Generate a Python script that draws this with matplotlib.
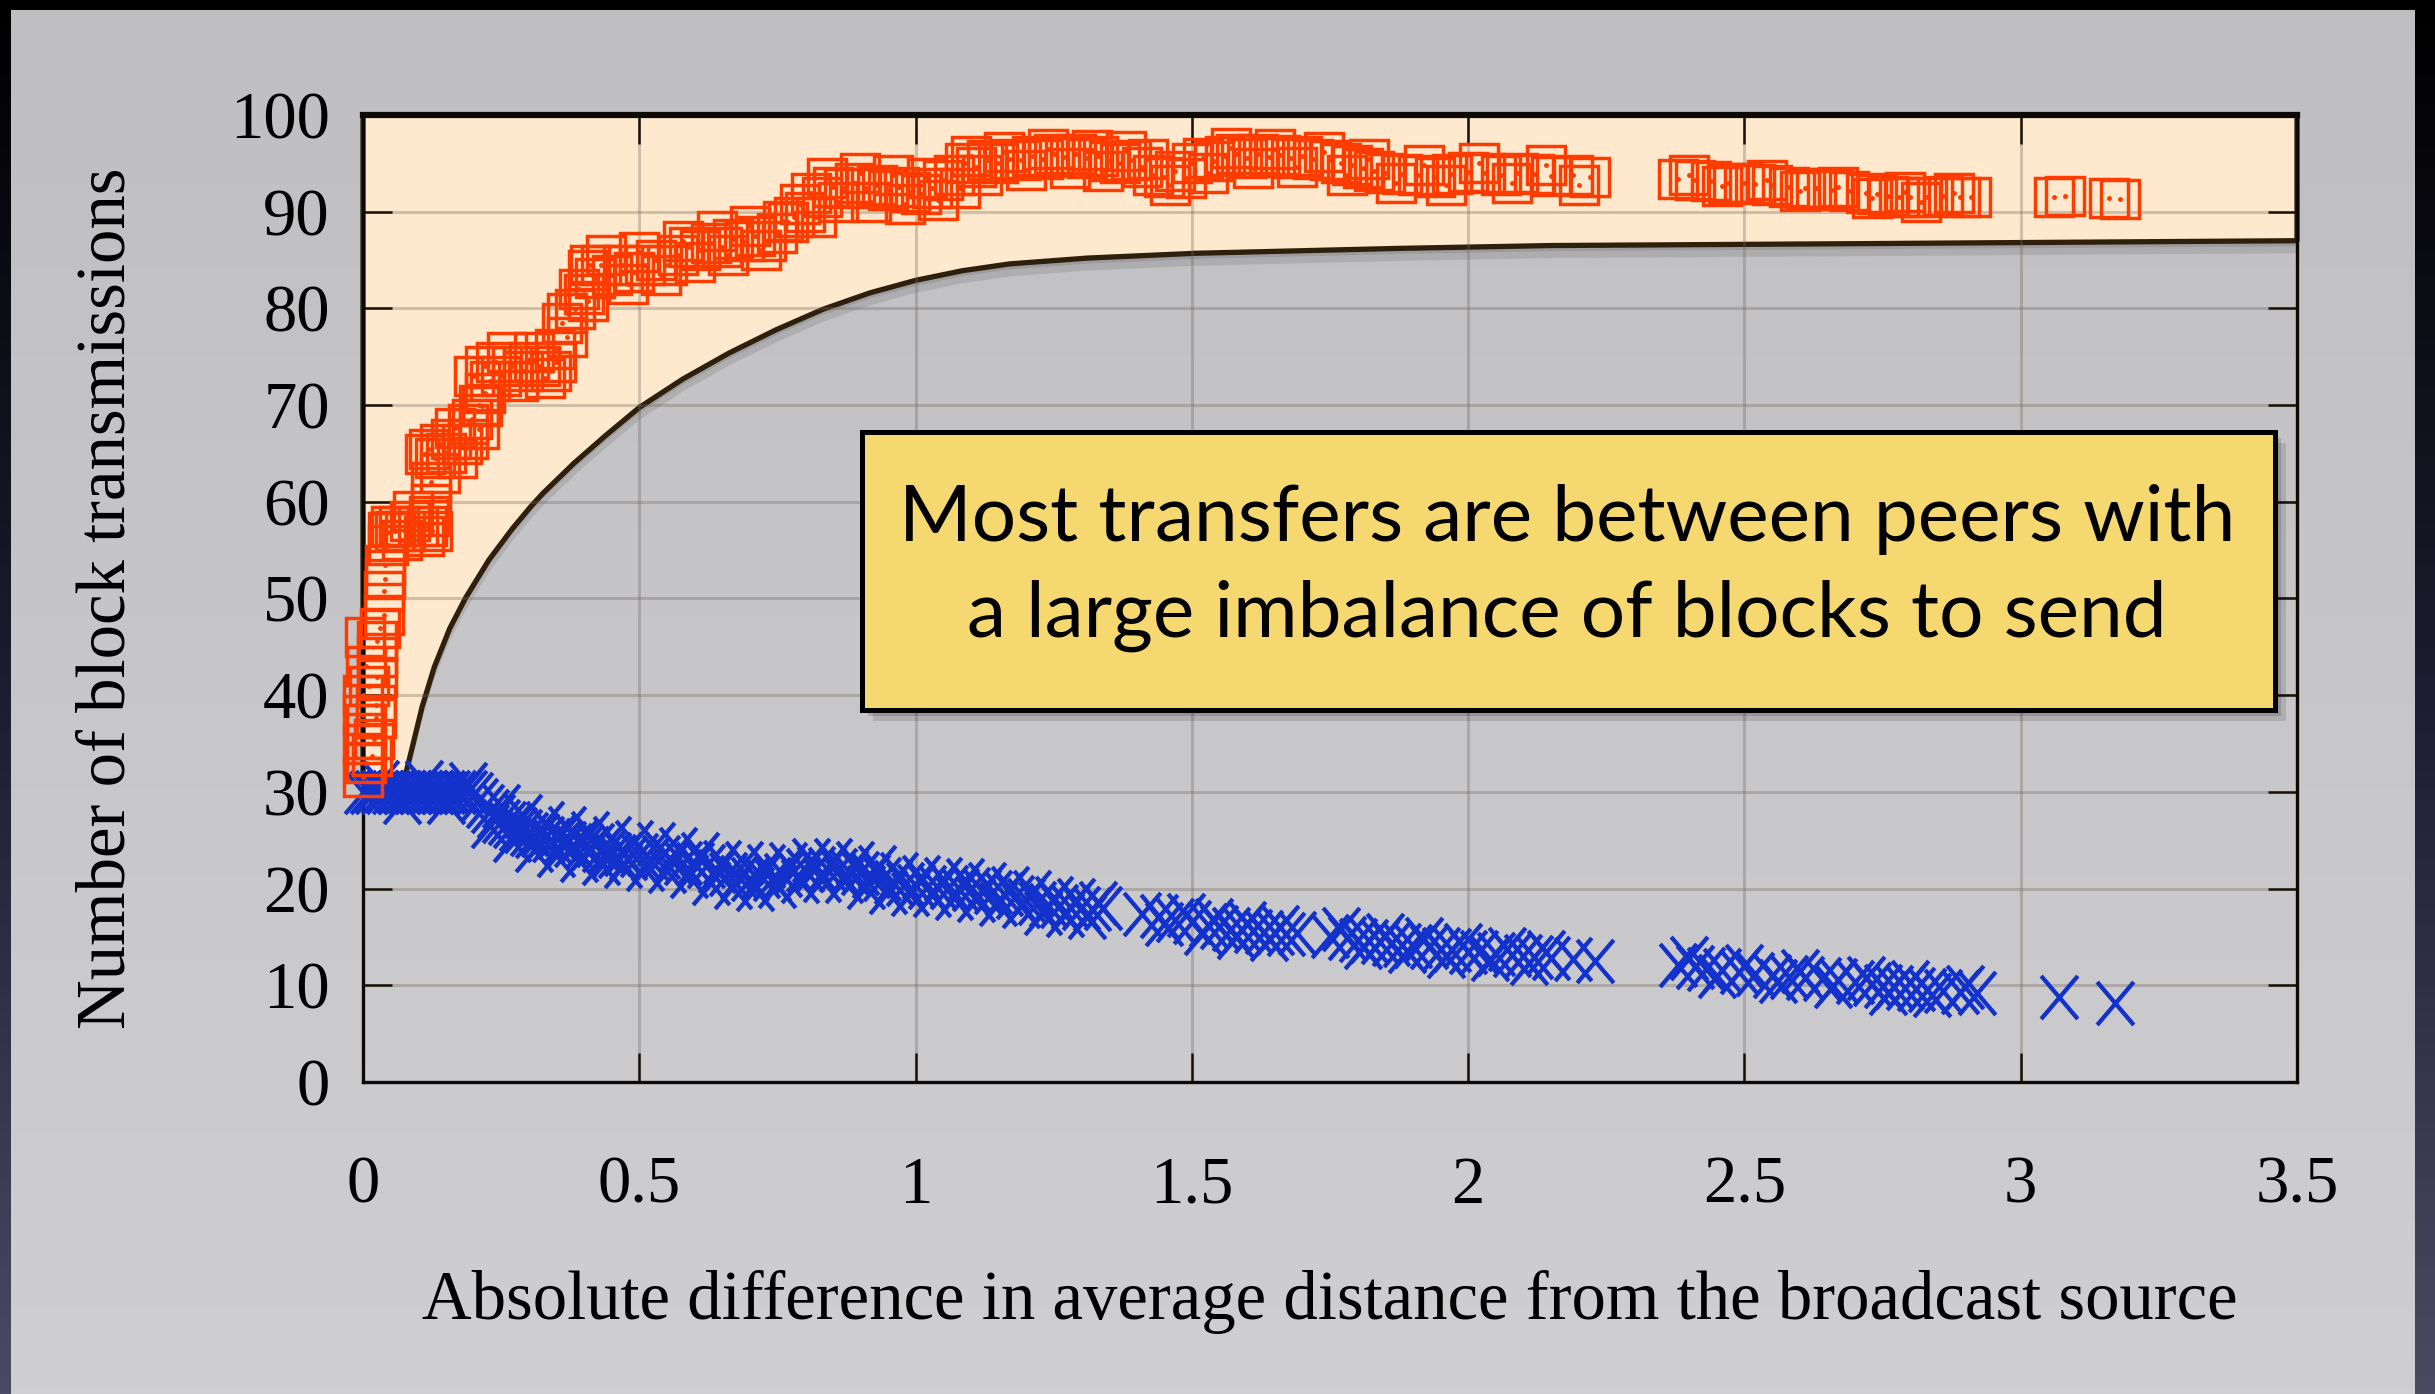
import numpy as np
import matplotlib
matplotlib.use('Agg')
import matplotlib.pyplot as plt
from matplotlib.path import Path
from matplotlib.patches import Polygon, Rectangle
import matplotlib.patheffects as pe

# Data
xticks = [0, 0.5, 1, 1.5, 2, 2.5, 3, 3.5]
xtick_labels = ['0', '0.5', '1', '1.5', '2', '2.5', '3', '3.5']
yticks = [0, 10, 20, 30, 40, 50, 60, 70, 80, 90, 100]

# bound curve
bound_x = [0.077, 0.09, 0.107, 0.129, 0.157, 0.186, 0.228, 0.27, 0.305, 0.326, 0.382, 0.408, 0.439,
           0.5, 0.579, 0.663, 0.748, 0.832, 0.917, 1.0, 1.085, 1.17, 1.31, 1.507, 1.87, 2.15, 2.72, 3.5]
bound_y = [31.8, 34.8, 38.8, 42.9, 46.9, 50.1, 54.0, 57.2, 59.6, 60.9, 64.0, 65.3, 66.85,
           69.75, 72.7, 75.4, 77.8, 79.9, 81.6, 82.9, 83.9, 84.6, 85.2, 85.7, 86.2, 86.5, 86.7, 87.0]

# red squares
red_x = [0.0, 0.005, 0.0, 0.005, 0.0, 0.005, 0.003, 0.016, 0.02, 0.023, 0.023, 0.025, 0.025, 0.025,
         0.03, 0.038, 0.038, 0.04, 0.04, 0.046, 0.046, 0.05, 0.058, 0.065, 0.076, 0.085, 0.1, 0.11,
         0.115, 0.124, 0.123, 0.123, 0.112, 0.12, 0.13, 0.14, 0.15, 0.16, 0.166, 0.18, 0.19, 0.197,
         0.21, 0.215, 0.22, 0.2, 0.22, 0.24, 0.25, 0.27, 0.29, 0.3, 0.32, 0.34, 0.347, 0.36, 0.37,
         0.384, 0.39, 0.408, 0.42, 0.408, 0.43, 0.45, 0.47, 0.49, 0.51, 0.53, 0.55, 0.57, 0.59, 0.61,
         0.63, 0.65, 0.67, 0.69, 0.71, 0.73, 0.75, 0.77, 0.79, 0.78, 0.8, 0.81, 0.83, 0.85, 0.87,
         0.89, 0.91, 0.93, 0.95, 0.97, 0.99, 1.01, 1.03, 1.05, 1.07, 1.09, 1.11, 1.13, 1.15, 1.17,
         1.19, 1.21, 1.23, 1.25, 1.27, 1.29, 1.31, 1.33, 1.35, 1.37, 1.39, 1.41, 1.43, 1.45, 1.47,
         1.5, 1.52, 1.54, 1.56, 1.58, 1.6, 1.62, 1.64, 1.66, 1.68, 1.7, 1.72, 1.75, 1.77, 1.79, 1.81,
         1.83, 1.85, 1.88, 1.91, 1.94, 1.97, 2.0, 2.03, 2.06, 2.09, 2.12, 2.15, 2.19, 2.22,
         2.38, 2.41, 2.44, 2.47, 2.5, 2.52, 2.55, 2.58, 2.61, 2.63, 2.66, 2.69, 2.72, 2.74, 2.76,
         2.78, 2.8, 2.83, 2.86, 2.89, 2.91, 3.06, 3.08, 3.16, 3.18,
         0.0, 0.01, 0.07, 0.09, 0.12, 0.14, 0.17, 0.19, 0.21, 0.23, 0.26, 0.28, 0.31, 0.33, 0.35,
         0.37, 0.4, 0.41, 0.44, 0.48, 0.5, 0.54, 0.58, 0.6, 0.64, 0.66, 0.7, 0.72, 0.76,
         0.82, 0.84, 0.86, 0.9, 0.92, 0.96, 0.98, 1.02, 1.04, 1.08, 1.1, 1.12, 1.16, 1.2, 1.24,
         1.28, 1.32, 1.34, 1.38, 1.42, 1.46, 1.49, 1.53, 1.57, 1.61, 1.65, 1.69, 1.74, 1.78, 1.82,
         1.87, 1.92, 1.96, 2.02, 2.08, 2.14, 2.2, 2.4, 2.46, 2.54, 2.6, 2.67, 2.73, 2.79, 2.82, 2.88]
red_y = [31.5, 33, 35, 37, 40, 43, 46, 33.7, 35.5, 37.6, 39, 41.9, 44, 45.6,
         47, 48.3, 50.8, 52, 53.5, 55.5, 56.9, 57.5, 57, 57.5, 57, 58, 57.5, 56.5,
         57.5, 57, 59.8, 62, 64.9, 65.5, 64.5, 66, 65, 66.5, 67.6, 66, 68, 68.6,
         67.5, 69.9, 71.2, 73, 74, 74.5, 73, 74, 73.5, 74.5, 74, 73.5, 75.8, 78.5, 77,
         79.9, 82, 80.8, 83.1, 84, 84.5, 83.5, 84.5, 83.8, 84.5, 85, 84.5, 85.5, 86.3, 86,
         86.8, 86.3, 87.2, 87, 87.5, 87, 87.8, 88.9, 90.8, 89.5, 90, 91.9, 91.5, 92.6, 92.5,
         93, 92.4, 92.8, 92.2, 92.6, 92, 91.8, 92.5, 93.3, 93.8, 95, 94.6, 95.3, 95, 95.5,
         95.3, 95.8, 95.5, 96, 95.7, 96, 95.6, 95.8, 95.2, 95, 95.3, 94.6, 93.8, 93.6, 94.2,
         95, 95.6, 95.2, 95.8, 96, 95.6, 96, 95.7, 95.9, 95.6, 95.8, 95.4, 95.3, 95, 94.8, 94.5,
         94.2, 94, 93.9, 93.8, 93.6, 93.9, 94.1, 94, 93.8, 94, 93.9, 93.7, 93.8, 93.6,
         93.4, 93.3, 93.2, 93, 93, 92.9, 92.8, 92.6, 92.5, 92.4, 92.2, 92.1, 91.9, 91.8, 91.6,
         91.5, 91.5, 91.5, 91.6, 91.5, 91.5, 91.5, 91.6, 91.4, 91.3,
         38, 41, 56, 59, 58.5, 63, 64.5, 66.5, 70, 72.5, 75.5, 72.5, 75.5, 72.8, 74.5,
         79.5, 81.5, 84.5, 85.5, 82.5, 85.8, 83.5, 87, 84.8, 88, 85.5, 88.5, 86, 89,
         89.5, 93.5, 91, 94, 91, 93.8, 90.8, 93.5, 91.2, 92.5, 95.8, 93.8, 96.2, 94.3, 96.5,
         94.5, 96.4, 94.2, 96.3, 95.5, 92.8, 93.5, 94, 96.6, 94.5, 96.5, 94.6, 96.2, 93.8, 95.5,
         93, 94.8, 92.8, 95, 93, 94.8, 92.8, 93.8, 92.7, 93.3, 92.1, 92.6, 91.4, 92, 91, 91.9]

# blue crosses
blue_x = [0.0, 0.01, 0.02, 0.03, 0.04, 0.05, 0.06, 0.07, 0.08, 0.09, 0.1, 0.11, 0.12, 0.13, 0.14,
          0.15, 0.16, 0.17, 0.18, 0.19, 0.2, 0.21, 0.22, 0.23, 0.24, 0.25, 0.26, 0.27, 0.28, 0.29,
          0.3, 0.31, 0.32, 0.33, 0.34, 0.35, 0.36, 0.37, 0.38, 0.39, 0.4, 0.41, 0.42, 0.43, 0.44,
          0.45, 0.46, 0.47, 0.48, 0.5, 0.52, 0.54, 0.56, 0.58, 0.6, 0.62, 0.64, 0.66, 0.68, 0.7,
          0.72, 0.74, 0.76, 0.78, 0.8, 0.82, 0.84, 0.86, 0.88, 0.9, 0.92, 0.94, 0.96, 0.98, 1.0,
          1.02, 1.04, 1.06, 1.08, 1.1, 1.12, 1.14, 1.16, 1.18, 1.2, 1.22, 1.24, 1.26, 1.28, 1.3,
          1.32, 1.34, 1.41, 1.44, 1.47, 1.5, 1.53, 1.55, 1.57, 1.59, 1.61, 1.63, 1.65, 1.67, 1.69,
          1.75, 1.78, 1.8, 1.82, 1.84, 1.86, 1.88, 1.9, 1.93, 1.95, 1.97, 2.0, 2.02, 2.05, 2.08,
          2.1, 2.12, 2.15, 2.19, 2.23, 2.38, 2.41, 2.43, 2.46, 2.49, 2.52, 2.55, 2.58, 2.61, 2.64,
          2.67, 2.7, 2.73, 2.75, 2.77, 2.79, 2.81, 2.83, 2.86, 2.89, 2.92, 3.07, 3.17,
          0.03, 0.07, 0.11, 0.15, 0.19, 0.23, 0.25, 0.27, 0.29, 0.31, 0.33, 0.35, 0.37, 0.39,
          0.41, 0.43, 0.45, 0.47, 0.49, 0.51, 0.53, 0.55, 0.57, 0.59, 0.61, 0.63, 0.65, 0.67,
          0.69, 0.71, 0.73, 0.75, 0.77, 0.79, 0.81, 0.83, 0.85, 0.87, 0.89, 0.91, 0.93, 0.95,
          0.97, 0.99, 1.01, 1.03, 1.05, 1.07, 1.09, 1.11, 1.13, 1.15, 1.17, 1.19, 1.21, 1.23,
          1.25, 1.27, 1.29, 1.31, 1.33, 1.45, 1.49, 1.52, 1.54, 1.58, 1.6, 1.64, 1.66, 1.77,
          1.81, 1.85, 1.89, 1.92, 1.96, 1.99, 2.04, 2.07, 2.11, 2.14, 2.4, 2.45, 2.5, 2.56, 2.6,
          2.66, 2.72, 2.76, 2.8, 2.84, 2.9]
blue_y = [30, 30, 30, 30, 30, 30, 30, 30, 30, 30, 30, 30, 30, 30, 30,
          30, 30, 30, 30, 30, 29.8, 29.2, 28.5, 28, 27.5, 27, 26.8, 26.5, 26.2, 26,
          25.6, 25.4, 25.5, 25.2, 25, 25.3, 24.8, 24.7, 24.5, 24.9, 24.3, 24.2, 24.5, 24, 23.8,
          23.6, 23.4, 23.6, 23.2, 23.5, 23.1, 23.3, 22.9, 22.6, 22.5, 22.3, 21.8, 21.5, 21.2, 21,
          21.3, 21, 21.4, 21.8, 21.9, 22.1, 22, 21.9, 21.7, 21.6, 21.3, 21, 20.7, 20.5, 20.3,
          20.2, 20.1, 20.2, 19.9, 20, 19.8, 19.7, 19.4, 19.1, 18.8, 18.5, 18.3, 18.2, 18.1, 18,
          17.9, 18, 17.4, 17.2, 16.8, 16.5, 16.2, 16, 15.8, 15.7, 15.6, 15.5, 15.4, 15.3, 15.4,
          15.1, 14.9, 14.7, 14.6, 14.5, 14.3, 14.2, 14.1, 14, 13.8, 13.7, 13.4, 13.4, 13.2, 13.1,
          13, 12.9, 12.8, 12.7, 12.5, 12.1, 11.9, 11.7, 11.6, 11.4, 11.2, 11, 10.9, 10.8, 10.7,
          10.5, 10.3, 10.1, 9.9, 9.8, 9.7, 9.6, 9.5, 9.4, 9.3, 9.2, 8.8, 8.2,
          31, 29, 31, 29, 30.8, 26.5, 28.5, 25, 27.5, 24, 26.8, 23.5, 26.3, 23,
          25.8, 22.6, 25.2, 22.3, 24.8, 22, 24.6, 21.8, 24.1, 21.3, 23.6, 20.6, 22.8, 20.2,
          22.6, 20, 22.3, 20.3, 22.5, 20.8, 23, 20.9, 23, 20.8, 22.6, 20.2, 22.2, 19.6,
          21.5, 19.4, 21.2, 19.3, 21, 19, 20.9, 18.8, 20.5, 18.4, 20.1, 18.2, 19.6, 17.5,
          19, 17.3, 18.8, 17.1, 18.5, 16.3, 17.3, 15.4, 16.8, 15, 16.4, 14.8, 16, 15.8,
          14, 15.2, 13.5, 14.8, 13, 14.2, 12.7, 13.8, 12.3, 13.4, 12.8, 11, 12, 10.4, 11.5,
          9.9, 10.8, 9.2, 10.3, 9, 9.8]

note = 'Most transfers are between peers with\na large imbalance of blocks to send'

W, H = 2435, 1394
fig = plt.figure(figsize=(W / 100, H / 100), dpi=100)

# slide frame: dark border with a light grey panel
ax_frame = fig.add_axes([0, 0, 1, 1])
frame = np.linspace(0, 1, 256).reshape(-1, 1)
ax_frame.imshow(frame, cmap=matplotlib.colors.LinearSegmentedColormap.from_list(
    'fr', ['#000000', '#1c1d30', '#4a4b63']), aspect='auto', extent=[0, 1, 0, 1])
ax_frame.set_axis_off()

ax_bg = fig.add_axes([11 / W, 0, (2415 - 11) / W, 1 - 10 / H])
ax_bg.imshow(frame, cmap=matplotlib.colors.LinearSegmentedColormap.from_list(
    'bg', ['#bfbfc1', '#cfcfd2']), aspect='auto', extent=[0, 1, 0, 1])
ax_bg.set_axis_off()

ax = fig.add_axes([363 / W, 1 - 1082 / H, (2297 - 363) / W, (1082 - 115) / H])
ax.set_facecolor('none')
ax.set_xlim(0, 3.5)
ax.set_ylim(0, 100)

# shaded region above the bound
poly_pts = [(0, 100), (0, bound_y[0])] + list(zip(bound_x, bound_y)) + [(3.5, 100)]
region = Polygon(poly_pts, closed=True, facecolor='#fee9ce', edgecolor='#2e200c',
                 linewidth=3.8, zorder=0.3, clip_on=False, joinstyle='round',
                 path_effects=[pe.SimplePatchShadow(offset=(0, -9), shadow_rgbFace='#000000', alpha=0.10),
                               pe.SimplePatchShadow(offset=(0, -4), shadow_rgbFace='#000000', alpha=0.10),
                               pe.Normal()])
ax.add_patch(region)

ax.set_axisbelow(True)
ax.grid(True, color='#6e6458', alpha=0.32, linewidth=2.2)

# markers
xmark = Path([(-0.85, -1), (0.85, 1), (-0.85, 1), (0.85, -1)],
             [Path.MOVETO, Path.LINETO, Path.MOVETO, Path.LINETO])
ax.plot(blue_x, blue_y, linestyle='none', marker=xmark, markersize=31, markeredgewidth=3.1,
        color='#1332cc', clip_on=False, zorder=3)
ax.plot(red_x, red_y, linestyle='none', marker='s', markersize=27, markeredgewidth=2.5,
        markerfacecolor='none', markeredgecolor='#ff3c00', clip_on=False, zorder=4)
ax.plot(red_x, red_y, linestyle='none', marker='o', markersize=2.5, color='#ff3c00',
        clip_on=False, zorder=4)

serif = 'Liberation Serif'
ax.set_xticks(xticks)
ax.set_xticklabels(xtick_labels)
ax.set_yticks(yticks)
ax.tick_params(direction='in', length=21, width=1.8, color='#1a1208', top=True, right=True,
               labelsize=48)
ax.tick_params(axis='x', pad=53)
ax.tick_params(axis='y', pad=24)
for lab in ax.get_xticklabels() + ax.get_yticklabels():
    lab.set_fontfamily(serif)
for sp in ax.spines.values():
    sp.set_linewidth(2.4)
    sp.set_color('#0d0a05')
ax.spines['top'].set_linewidth(4.5)

ax.set_xlabel('Absolute difference in average distance from the broadcast source',
              fontsize=49.5, fontfamily=serif, va='center')
ax.xaxis.set_label_coords(0.5, -0.2275)
ax.set_ylabel('Number of block transmissions', fontsize=49.5, fontfamily=serif, va='center')
ax.yaxis.set_label_coords(-0.132, 0.5)

# callout box
box = Rectangle((862 / W, 1 - 710 / H), (2275 - 862) / W, (710 - 432) / H,
                transform=fig.transFigure, facecolor='#f6d871', edgecolor='#000000',
                linewidth=3.6, zorder=5,
                path_effects=[pe.SimplePatchShadow(offset=(8, -8), shadow_rgbFace='#000000', alpha=0.12),
                              pe.SimplePatchShadow(offset=(4, -4), shadow_rgbFace='#000000', alpha=0.15),
                              pe.Normal()])
fig.patches.append(box)
fig.text(1567 / W, 1 - 568 / H, note, ha='center', va='center', fontsize=56.5,
         fontfamily='Lato', linespacing=1.43, zorder=6)

fig.savefig('out.png', dpi=100)
